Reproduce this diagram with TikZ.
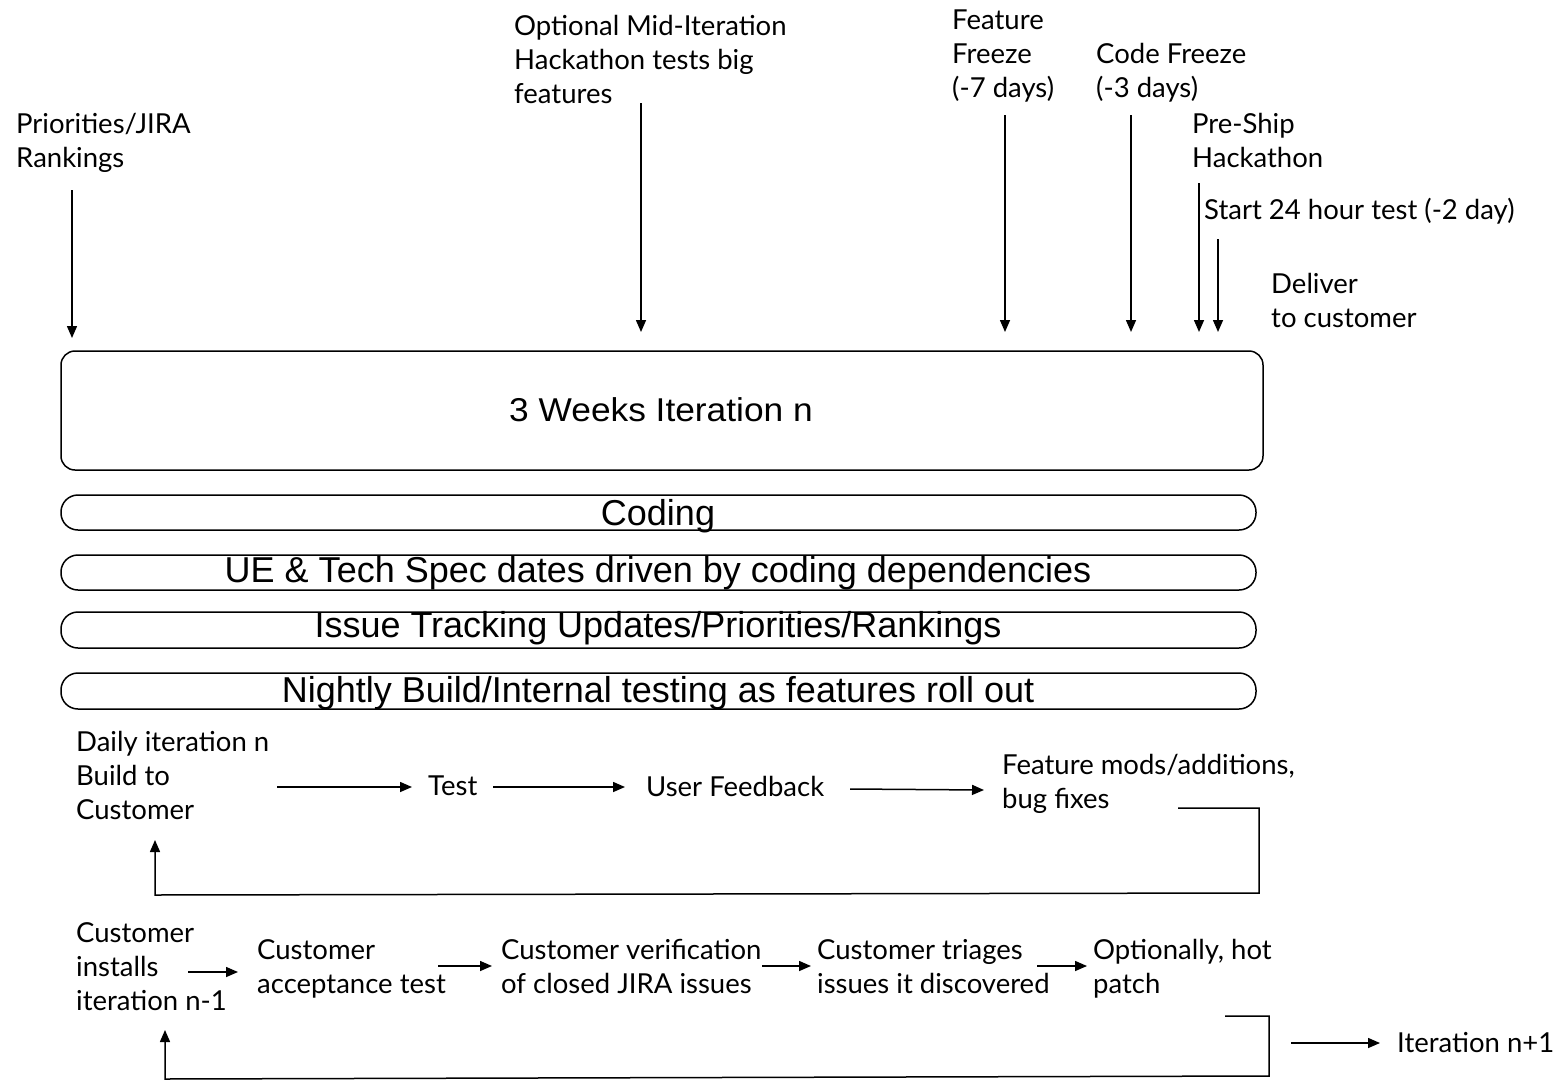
\documentclass[tikz,border=0pt]{standalone}
\usepackage{fontspec}
\setmainfont{Lato}
\newfontfamily\boxfont{Liberation Sans}
\usetikzlibrary{arrows.meta,calc}
\begin{document}
\begin{tikzpicture}[x=1pt,y=-1pt,
  lbl/.style={anchor=base west,align=left,inner sep=0pt,font=\fontsize{27.5}{34}\selectfont},
  arr/.style={-{Triangle[length=12pt,width=10pt]},line width=1.5pt},
  bigbox/.style={draw,line width=1.5pt,rounded corners=14pt},
  bar/.style={draw,line width=1.5pt,rounded corners=17pt},
  boxtxt/.style={anchor=base,font=\boxfont\fontsize{36}{40}\selectfont,inner sep=0pt}]
\useasboundingbox[fill=white] (0,0) rectangle (1560,1081);

% main boxes
\draw[bigbox] (61,351) rectangle (1263,470);
\node[boxtxt,font=\boxfont\fontsize{33}{36}\selectfont,xscale=1.07] (iter) at (661,421) {3 Weeks Iteration n};
\draw[bar] (61,495) rectangle (1256,530);
\node[boxtxt] (coding) at (658,525) {Coding};
\draw[bar] (61,555) rectangle (1256,590);
\node[boxtxt] (ue) at (658,582) {UE \& Tech Spec dates driven by coding dependencies};
\draw[bar] (61,612) rectangle (1256,648);
\node[boxtxt] (issue) at (658,637) {Issue Tracking Updates/Priorities/Rankings};
\draw[bar] (61,673) rectangle (1256,709);
\node[boxtxt] (nightly) at (658,702) {Nightly Build/Internal testing as features roll out};

% top labels (anchor = baseline of last line)
\node[lbl] (prio) at (16,167) {Priorities/JIRA\\Rankings};
\node[lbl] (mid) at (514,103) {Optional Mid-Iteration\\Hackathon tests big\\features};
\node[lbl] (ff) at (952,97) {Feature\\Freeze\\(-7 days)};
\node[lbl] (cf) at (1096,97) {Code Freeze\\(-3 days)};
\node[lbl] (ps) at (1192,167) {Pre-Ship\\Hackathon};
\node[lbl] (st) at (1204,219) {Start 24 hour test (-2 day)};
\node[lbl] (dl) at (1271,327) {Deliver\\to customer};

\coordinate (p1) at (72,190);   \coordinate (q1) at (72,338);
\coordinate (p2) at (641,103);  \coordinate (q2) at (641,332);
\coordinate (p3) at (1005,115); \coordinate (q3) at (1005,332);
\coordinate (p4) at (1131,115); \coordinate (q4) at (1131,332);
\coordinate (p5) at (1199,183); \coordinate (q5) at (1199,332);
\coordinate (p6) at (1218,239); \coordinate (q6) at (1218,332);
\foreach \i in {1,...,6} {\draw[arr] (p\i) -- (q\i);}

% daily row
\node[lbl] (daily) at (76,819) {Daily iteration n\\Build to\\Customer};
\node[lbl] (test) at (428,795) {Test};
\node[lbl] (uf) at (646,796) {User Feedback};
\node[lbl] (fm) at (1002,808) {Feature mods/additions,\\bug fixes};
\coordinate (d1) at (277,787); \coordinate (d2) at (412,787);
\coordinate (d3) at (493,787); \coordinate (d4) at (625,787);
\coordinate (d5) at (850,789); \coordinate (d6) at (984,790);
\draw[arr] (d1) -- (d2);
\draw[arr] (d3) -- (d4);
\draw[arr] (d5) -- (d6);
\coordinate (l1) at (1178,808); \coordinate (l2) at (155,840);
\draw[arr] (l1) -- (1259,808) -- (1259,893) -- (155,895) -- (l2);

% customer row
\node[lbl] (ci) at (76,1010) {Customer\\installs\\iteration n-1};
\node[lbl] (cat) at (257,993) {Customer\\acceptance test};
\node[lbl] (cv) at (501,993) {Customer verification\\of closed JIRA issues};
\node[lbl] (ct) at (817,993) {Customer triages\\issues it discovered};
\node[lbl] (hp) at (1093,993) {Optionally, hot\\patch};
\node[lbl] (nx) at (1397,1052) {Iteration n+1};
\coordinate (c1) at (188,972);  \coordinate (c2) at (238,972);
\coordinate (c3) at (438,966);  \coordinate (c4) at (492,966);
\coordinate (c5) at (762,966);  \coordinate (c6) at (811,966);
\coordinate (c7) at (1037,966); \coordinate (c8) at (1087,966);
\coordinate (c9) at (1291,1043); \coordinate (c10) at (1380,1043);
\draw[arr] (c1) -- (c2);
\draw[arr] (c3) -- (c4);
\draw[arr] (c5) -- (c6);
\draw[arr] (c7) -- (c8);
\draw[arr] (c9) -- (c10);
\coordinate (m1) at (1225,1016); \coordinate (m2) at (165,1030);
\draw[arr] (m1) -- (1269,1016) -- (1269,1076) -- (165,1079) -- (m2);
\end{tikzpicture}
\end{document}
